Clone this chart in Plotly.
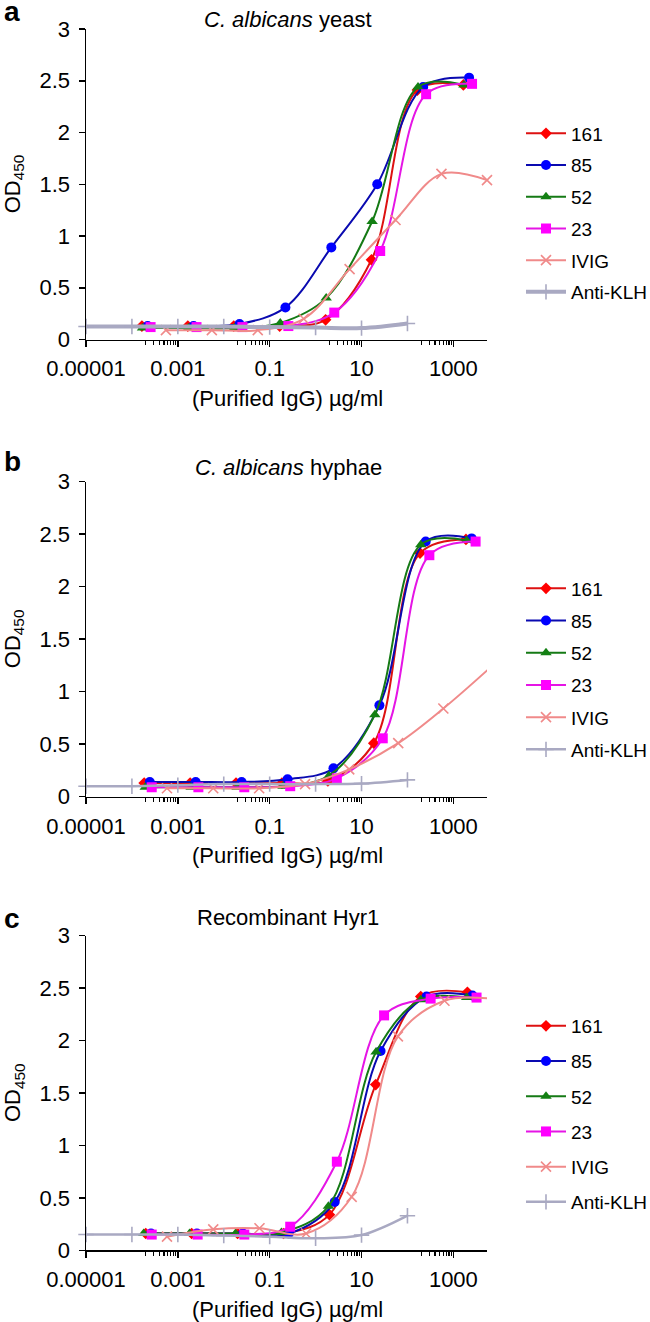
import plotly.graph_objects as go
import math

SERIES = ["161", "85", "52", "23", "IVIG", "Anti-KLH"]
PANEL_TITLES = ["<i>C. albicans</i> yeast", "<i>C. albicans</i> hyphae", "Recombinant Hyr1"]
PANEL_LETTERS = ["a", "b", "c"]
X_TITLE = "(Purified IgG) µg/ml"
Y_TITLE = "OD<sub>450</sub>"
X_TICKVALS = [1e-5, 1e-3, 1e-1, 10, 1000]
X_TICKTEXT = ["0.00001", "0.001", "0.1", "10", "1000"]
X_UNLABELED = [1e-4, 1e-2, 1, 100]
Y_TICKVALS = [0, 0.5, 1, 1.5, 2, 2.5, 3]

KLH_X = [1e-5, 1e-4, 1e-3, 1e-2, 1e-1, 1, 10, 100]

# ---- panel a: C. albicans yeast ----
A_161_X = [0.000165, 0.00165, 0.0165, 0.165, 1.65, 16.5, 165, 1650]
A_161_Y = [0.13, 0.13, 0.13, 0.13, 0.19, 0.77, 2.41, 2.46]
A_85_X = [0.00022, 0.0022, 0.022, 0.22, 2.2, 22, 220, 2200]
A_85_Y = [0.13, 0.13, 0.15, 0.31, 0.89, 1.50, 2.44, 2.53]
A_52_X = [0.00017, 0.0017, 0.017, 0.17, 1.7, 17, 170, 1700]
A_52_Y = [0.11, 0.11, 0.11, 0.16, 0.40, 1.14, 2.44, 2.46]
A_23_X = [0.000255, 0.00255, 0.0255, 0.255, 2.55, 25.5, 255, 2550]
A_23_Y = [0.12, 0.12, 0.12, 0.13, 0.26, 0.855, 2.37, 2.47]
A_IVIG_X = [0.00055, 0.0055, 0.055, 0.55, 5.5, 55, 550, 5400]
A_IVIG_Y = [0.09, 0.09, 0.09, 0.20, 0.68, 1.155, 1.60, 1.54]
A_KLH_Y = [0.125, 0.125, 0.125, 0.125, 0.12, 0.115, 0.11, 0.155]

# ---- panel b: C. albicans hyphae ----
B_161_X = [0.000185, 0.00185, 0.0185, 0.185, 1.85, 18.5, 188, 1880]
B_161_Y = [0.13, 0.13, 0.13, 0.13, 0.15, 0.51, 2.32, 2.45]
B_85_X = [0.000245, 0.00245, 0.0245, 0.245, 2.45, 24.5, 250, 2500]
B_85_Y = [0.14, 0.14, 0.14, 0.166, 0.27, 0.87, 2.43, 2.46]
B_52_X = [0.000195, 0.00195, 0.0195, 0.195, 1.95, 19.5, 195, 1950]
B_52_Y = [0.09, 0.09, 0.09, 0.10, 0.20, 0.78, 2.40, 2.44]
B_23_X = [0.00027, 0.0028, 0.028, 0.28, 2.9, 29, 300, 3050]
B_23_Y = [0.09, 0.09, 0.09, 0.10, 0.175, 0.556, 2.30, 2.43]
B_IVIG_X = [0.00058, 0.0059, 0.059, 0.59, 5.4, 63, 605, 6000]
B_IVIG_Y = [0.08, 0.08, 0.08, 0.12, 0.26, 0.51, 0.84, 1.22]
B_KLH_Y = [0.10, 0.10, 0.11, 0.12, 0.12, 0.12, 0.125, 0.16]

# ---- panel c: Recombinant Hyr1 ----
C_161_X = [0.0002, 0.002, 0.02, 0.2, 2.0, 20.4, 195, 2020]
C_161_Y = [0.16, 0.16, 0.16, 0.16, 0.34, 1.58, 2.42, 2.46]
C_85_X = [0.00026, 0.0026, 0.026, 0.26, 2.6, 26, 260, 2600]
C_85_Y = [0.16, 0.16, 0.16, 0.16, 0.46, 1.90, 2.42, 2.43]
C_52_X = [0.00018, 0.0018, 0.018, 0.18, 1.9, 20.7, 195, 1950]
C_52_Y = [0.16, 0.16, 0.16, 0.17, 0.42, 1.89, 2.39, 2.41]
C_23_X = [0.00027, 0.0027, 0.028, 0.28, 2.9, 31, 320, 3200]
C_23_Y = [0.15, 0.15, 0.15, 0.225, 0.845, 2.24, 2.40, 2.41]
C_IVIG_X = [0.00058, 0.0059, 0.06, 0.62, 6.1, 62, 640, 6200]
C_IVIG_Y = [0.13, 0.20, 0.21, 0.16, 0.51, 2.04, 2.38, 2.40]
C_KLH_Y = [0.15, 0.15, 0.15, 0.14, 0.13, 0.115, 0.145, 0.33]

PANELS = [
    [(A_161_X, A_161_Y), (A_85_X, A_85_Y), (A_52_X, A_52_Y), (A_23_X, A_23_Y),
     (A_IVIG_X, A_IVIG_Y), (KLH_X, A_KLH_Y)],
    [(B_161_X, B_161_Y), (B_85_X, B_85_Y), (B_52_X, B_52_Y), (B_23_X, B_23_Y),
     (B_IVIG_X, B_IVIG_Y), (KLH_X, B_KLH_Y)],
    [(C_161_X, C_161_Y), (C_85_X, C_85_Y), (C_52_X, C_52_Y), (C_23_X, C_23_Y),
     (C_IVIG_X, C_IVIG_Y), (KLH_X, C_KLH_Y)],
]

LINE_COLORS = ["#dd1111", "#0a0ab0", "#157a15", "#e515e5", "#f08a8a", "#a9a9c2"]
MARKER_COLORS = ["#ff0000", "#0000ff", "#138013", "#ff00ff", "#f08a8a", "#a9a9c2"]
SYMBOLS = ["diamond", "circle", "triangle-up", "square", "x-thin-open", "cross-thin-open"]
SIZES = [9, 10, 10, 10, 10, 11]
KLH_WIDTHS = [4, 2.5, 2.5]

W, H = 650, 1322
FONT = "Liberation Sans, Arial, sans-serif"
X_MAX_LOG = math.log10(5400)

# pixel geometry of plot areas
X_LEFT, X_RIGHT = 86, 487
PLOT_TOPS = [29, 481.7, 935.7]
PLOT_BOTS = [339.5, 796.7, 1250.3]
LEGEND_TOPS = [114.5, 569.5, 1007]
LEGEND_GAPS = [4, 4.5, 7.5]
TITLE_Y = [19.5, 467, 917]
LETTER_Y = [12, 462, 918]
XTITLE_Y = [398, 855, 1309]


def py(p):
    return 1 - p / H


minor_vals = [m * d for d in (1e-4, 1e-2, 1, 100) for m in range(2, 10)]

fig = go.Figure()
for pi, panel in enumerate(PANELS):
    suffix = "" if pi == 0 else str(pi + 1)
    leg = "legend" if pi == 0 else "legend" + str(pi + 1)
    for si, (xs, ys) in enumerate(panel):
        lw = KLH_WIDTHS[pi] if si == 5 else 2
        open_sym = si >= 4
        fig.add_trace(go.Scatter(
            x=xs, y=ys, name=SERIES[si], mode="lines+markers",
            xaxis="x" + suffix, yaxis="y" + suffix, legend=leg,
            legendgroup=PANEL_LETTERS[pi] + SERIES[si],
            line=dict(color=LINE_COLORS[si], width=lw, shape="spline", smoothing=1.0),
            marker=dict(symbol=SYMBOLS[si], size=SIZES[si], color=MARKER_COLORS[si],
                        line=dict(width=1.6 if open_sym else 0, color=MARKER_COLORS[si])),
            cliponaxis=False,
        ))

layout = dict(
    width=W, height=H, margin=dict(l=0, r=0, t=0, b=0, autoexpand=False),
    paper_bgcolor="white", plot_bgcolor="white",
    font=dict(family=FONT, size=22, color="black"),
    showlegend=True,
)
annotations = []
for pi in range(3):
    suffix = "" if pi == 0 else str(pi + 1)
    layout["xaxis" + suffix] = dict(
        type="log", range=[-5, X_MAX_LOG], automargin=False,
        domain=[X_LEFT / W, X_RIGHT / W], anchor="y" + suffix,
        tickmode="array", tickvals=X_TICKVALS, ticktext=X_TICKTEXT,
        ticks="outside", ticklen=6, tickwidth=1.5, tickcolor="black",
        showline=True, linecolor="black", linewidth=1.5, showgrid=False, zeroline=False,
        tickfont=dict(size=22, family=FONT), ticklabelstandoff=3,
        minor=dict(tickmode="array", tickvals=minor_vals, ticks="outside", ticklen=4,
                   tickwidth=1.2, tickcolor="black", showgrid=False),
    )
    # extra unlabeled decade ticks
    layout["xaxis" + str(pi + 4)] = dict(
        type="log", range=[-5, X_MAX_LOG], automargin=False, overlaying="x" + suffix,
        domain=[X_LEFT / W, X_RIGHT / W], anchor="y" + suffix, side="bottom",
        tickmode="array", tickvals=X_UNLABELED, showticklabels=False,
        ticks="outside", ticklen=6, tickwidth=1.5, tickcolor="black",
        showline=False, showgrid=False, zeroline=False,
    )
    layout["yaxis" + suffix] = dict(
        range=[0, 3], domain=[py(PLOT_BOTS[pi]), py(PLOT_TOPS[pi])], anchor="x" + suffix,
        automargin=False,
        tickmode="array", tickvals=Y_TICKVALS,
        ticks="outside", ticklen=6, tickwidth=1.5, tickcolor="black",
        showline=True, linecolor="black", linewidth=1.5, showgrid=False, zeroline=False,
        tickfont=dict(size=22, family=FONT), ticklabelstandoff=4,
    )
    leg = "legend" if pi == 0 else "legend" + str(pi + 1)
    layout[leg] = dict(
        x=521 / W, xanchor="left", y=py(LEGEND_TOPS[pi]), yanchor="top",
        font=dict(size=19, family=FONT), bgcolor="rgba(0,0,0,0)", borderwidth=0,
        tracegroupgap=LEGEND_GAPS[pi], itemwidth=40,
    )
    annotations.append(dict(text="<b>" + PANEL_LETTERS[pi] + "</b>", x=2 / W, y=py(LETTER_Y[pi]),
                            xref="paper", yref="paper", xanchor="left", yanchor="middle",
                            showarrow=False, font=dict(size=28, family=FONT, color="black")))
    annotations.append(dict(text=PANEL_TITLES[pi], x=288 / W, y=py(TITLE_Y[pi]), xref="paper",
                            yref="paper", xanchor="center", yanchor="middle", showarrow=False,
                            font=dict(size=22, family=FONT)))
    annotations.append(dict(text=X_TITLE, x=287.5 / W, y=py(XTITLE_Y[pi]), xref="paper",
                            yref="paper", xanchor="center", yanchor="middle", showarrow=False,
                            font=dict(size=22, family=FONT)))
    annotations.append(dict(text=Y_TITLE, x=14 / W,
                            y=py((PLOT_TOPS[pi] + PLOT_BOTS[pi]) / 2), xref="paper",
                            yref="paper", xanchor="center", yanchor="middle", showarrow=False,
                            textangle=-90, font=dict(size=22, family=FONT)))
layout["annotations"] = annotations
fig.update_layout(**layout)
fig.write_html("out.html", config={"displayModeBar": False, "staticPlot": True},
               post_script="document.body.style.margin='0';document.body.style.padding='0';")
